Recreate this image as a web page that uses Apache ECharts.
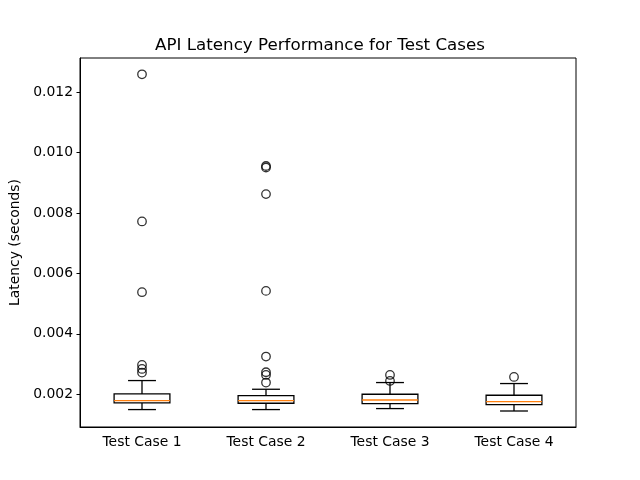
<!DOCTYPE html>
<html>
<head>
<meta charset="utf-8">
<script src="https://cdn.jsdelivr.net/npm/echarts@6/dist/echarts.min.js"></script>
<style>html,body{margin:0;padding:0;background:#fff}#c{width:640px;height:480px}</style>
</head>
<body>
<div id="c"></div>
<script>
const categories = ['Test Case 1', 'Test Case 2', 'Test Case 3', 'Test Case 4'];
const whiskerLow  = [0.001493, 0.001493, 0.001526, 0.001446];
const q1          = [0.001712, 0.001702, 0.001692, 0.001659];
const median      = [0.001791, 0.001791, 0.001811, 0.001758];
const q3          = [0.002010, 0.001957, 0.002000, 0.001967];
const whiskerHigh = [0.002454, 0.002166, 0.002388, 0.002355];
const outliers1 = [0.012597, 0.007724, 0.005381, 0.002971, 0.002839, 0.002719];
const outliers2 = [0.00956, 0.00951, 0.008629, 0.005424, 0.00325, 0.002729, 0.00264, 0.002388];
const outliers3 = [0.00264, 0.002441];
const outliers4 = [0.002573];
const yTicks = [0.002, 0.004, 0.006, 0.008, 0.010, 0.012];

const boxData = categories.map((c, i) => [i, whiskerLow[i], q1[i], median[i], q3[i], whiskerHigh[i]]);
const outlierData = [];
[outliers1, outliers2, outliers3, outliers4].forEach((arr, i) => arr.forEach(v => outlierData.push([i, v])));

const chart = echarts.init(document.getElementById('c'));
const font = 'DejaVu Sans';
const lw = 1.3;
chart.setOption({
  animation: false,
  backgroundColor: '#fff',
  title: {
    text: 'API Latency Performance for Test Cases',
    left: 'center', top: 32,
    textStyle: { fontFamily: font, fontSize: 16.7, fontWeight: 'normal', color: '#000' }
  },
  grid: { left: 80, right: 64, top: 58, bottom: 53, show: true, borderColor: '#000', borderWidth: 1, backgroundColor: 'transparent' },
  xAxis: {
    type: 'category', data: categories, boundaryGap: true,
    axisLine: { lineStyle: { color: '#000', width: 1 } },
    axisTick: { alignWithLabel: true, length: 3.5, lineStyle: { color: '#000', width: 1 } },
    axisLabel: { fontFamily: font, fontSize: 13.9, color: '#000', margin: 8 },
    splitLine: { show: false }
  },
  yAxis: {
    type: 'value', min: 0.000916, max: 0.013137,
    name: 'Latency (seconds)', nameLocation: 'middle', nameGap: 54,
    nameTextStyle: { fontFamily: font, fontSize: 13.9, color: '#000' },
    axisLine: { show: true, lineStyle: { color: '#000', width: 1 } },
    axisTick: { show: true, length: 3.5, customValues: yTicks, lineStyle: { color: '#000', width: 1 } },
    axisLabel: { fontFamily: font, fontSize: 13.9, color: '#000', margin: 7, customValues: yTicks,
      formatter: v => v.toFixed(3) },
    splitLine: { show: false }
  },
  series: [
    {
      type: 'custom',
      data: boxData,
      encode: { x: 0, y: [1, 2, 3, 4, 5] },
      renderItem: function (params, api) {
        const x = api.value(0);
        const pLow = api.coord([x, api.value(1)]);
        const pQ1 = api.coord([x, api.value(2)]);
        const pMed = api.coord([x, api.value(3)]);
        const pQ3 = api.coord([x, api.value(4)]);
        const pHigh = api.coord([x, api.value(5)]);
        const bw = api.size([1, 0])[0] * 0.45;
        const cx = pQ1[0];
        const black = { stroke: '#000', lineWidth: lw, fill: null };
        return {
          type: 'group',
          children: [
            { type: 'line', shape: { x1: cx, y1: pQ1[1], x2: cx, y2: pLow[1] }, style: black },
            { type: 'line', shape: { x1: cx, y1: pQ3[1], x2: cx, y2: pHigh[1] }, style: black },
            { type: 'line', shape: { x1: cx - bw / 4, y1: pLow[1], x2: cx + bw / 4, y2: pLow[1] }, style: black },
            { type: 'line', shape: { x1: cx - bw / 4, y1: pHigh[1], x2: cx + bw / 4, y2: pHigh[1] }, style: black },
            { type: 'rect', shape: { x: cx - bw / 2, y: pQ3[1], width: bw, height: pQ1[1] - pQ3[1] }, style: { stroke: '#000', lineWidth: lw, fill: 'none' } },
            { type: 'line', shape: { x1: cx - bw / 2, y1: pMed[1], x2: cx + bw / 2, y2: pMed[1] }, style: { stroke: '#ff7f0e', lineWidth: lw } }
          ]
        };
      }
    },
    {
      type: 'scatter',
      data: outlierData,
      symbol: 'circle', symbolSize: 8.5,
      itemStyle: { color: 'rgba(0,0,0,0)', borderColor: '#000', borderWidth: 1.3 }
    }
  ]
});
</script>
</body>
</html>
